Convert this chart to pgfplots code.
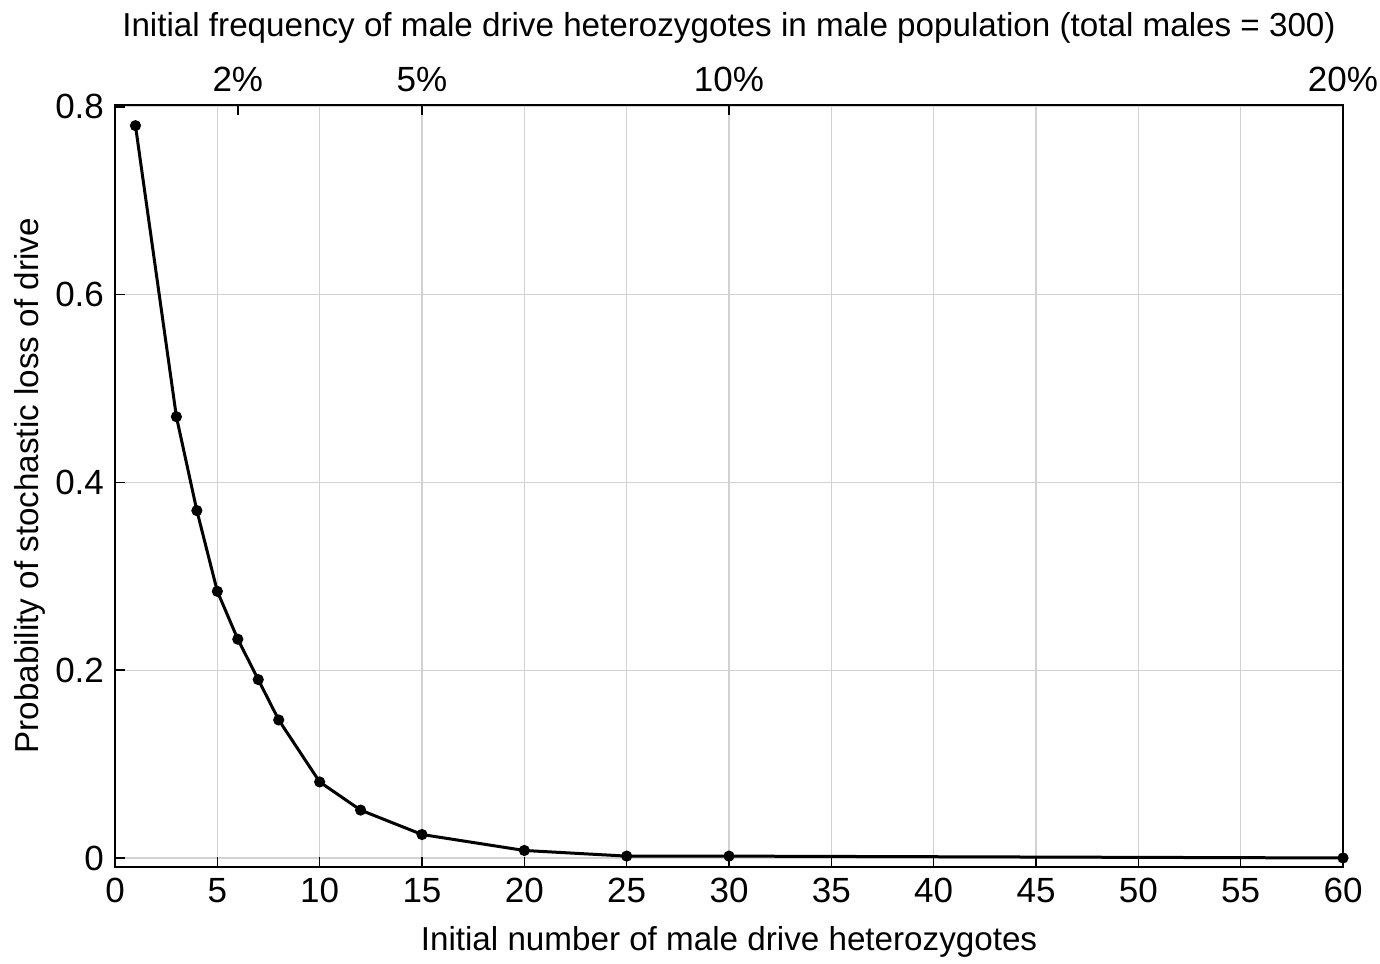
\documentclass[border=0pt]{standalone}
\usepackage{pgfplots}
\pgfplotsset{compat=1.18}
\usepackage{fontspec}
\setmainfont{Liberation Sans}
\begin{document}
\begin{tikzpicture}
\useasboundingbox (-57.5pt,-48pt) rectangle (632.5pt,433.5pt);
\begin{axis}[
  at={(0,0)}, anchor=south west,
  scale only axis, width=614pt, height=381pt,
  xmin=0, xmax=60, ymin=-0.0096, ymax=0.802,
  xtick={0,5,...,60},
  ytick={0,0.2,0.4,0.6,0.8},
  yticklabels={0,0.2,0.4,0.6,0.8},
  tick align=inside,
  xtick pos=bottom, ytick pos=left,
  grid=major,
  major grid style={gray!35, line width=0.6pt},
  axis line style={line width=0.9pt, black},
  major tick length=5pt,
  tick style={black, line width=0.8pt},
  /pgf/number format/assume math mode=true,
  ticklabel style={font=\fontsize{17.5}{20}\selectfont},
  label style={font=\fontsize{16.6}{19}\selectfont},
  xticklabel style={yshift=-2pt},
  yticklabel style={xshift=-2pt},
  xlabel={Initial number of male drive heterozygotes},
  ylabel={Probability of stochastic loss of drive},
  xlabel style={yshift=-5pt},
  ylabel style={yshift=-2pt},
]
\addplot[black, line width=1.5pt, mark=*, mark size=2pt] coordinates {
(1,0.78) (3,0.47) (4,0.37) (5,0.284) (6,0.233) (7,0.19) (8,0.147)
(10,0.081) (12,0.051) (15,0.025) (20,0.008) (25,0.002) (30,0.002) (60,0.0)
};
\end{axis}
\begin{axis}[
  at={(0,0)}, anchor=south west,
  scale only axis, width=614pt, height=381pt,
  xmin=0, xmax=60, ymin=-0.0096, ymax=0.802,
  axis x line*=top, axis y line=none,
  xtick={6,15,30,60},
  xticklabels={2\%,5\%,10\%,20\%},
  tick align=inside,
  major tick length=5pt,
  tick style={black, line width=0.8pt},
  axis line style={line width=0.9pt, black},
  ticklabel style={font=\fontsize{17.5}{20}\selectfont},
  xticklabel style={yshift=3pt},
  label style={font=\fontsize{16.6}{19}\selectfont},
  xlabel style={yshift=5pt},
  xlabel={Initial frequency of male drive heterozygotes in male population (total males = 300)},
]
\end{axis}
\end{tikzpicture}
\end{document}
